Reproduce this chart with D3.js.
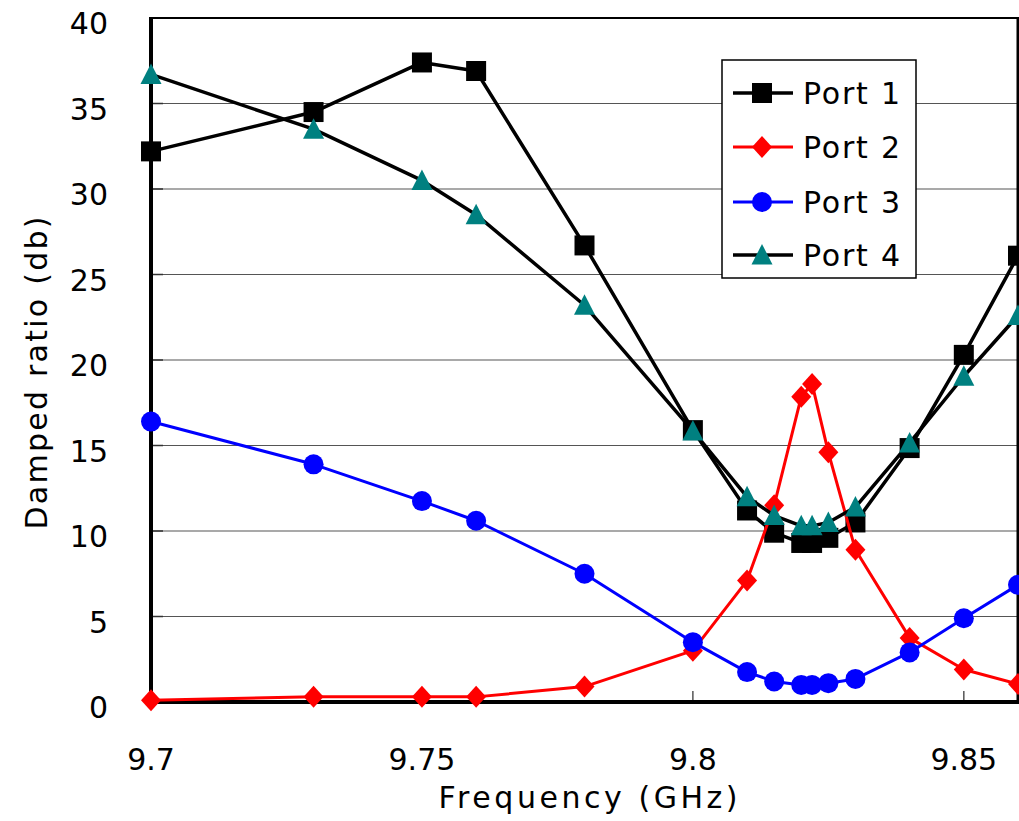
<!DOCTYPE html>
<html>
<head>
<meta charset="utf-8">
<script src="https://cdn.jsdelivr.net/npm/d3@7"></script>
<style>
  html, body { margin: 0; padding: 0; background: #fff; }
  svg { display: block; }
  text { font-family: "DejaVu Sans", sans-serif; fill: #000; }
</style>
</head>
<body>
<svg id="chart" width="1019" height="821"></svg>
<script>
// Measured frequencies (GHz)
const frequencies = [9.7, 9.73, 9.75, 9.76, 9.78, 9.8, 9.81, 9.815, 9.82, 9.822, 9.825, 9.83, 9.84, 9.85, 9.86];

// Damped ratio (dB) per port
const port1 = [32.2, 34.5, 37.4, 36.9, 26.7, 15.9, 11.2, 9.9, 9.3, 9.3, 9.6, 10.5, 14.85, 20.3, 26.1];
const port2 = [0.1, 0.3, 0.3, 0.3, 0.9, 3.0, 7.1, 11.5, 17.85, 18.6, 14.6, 8.9, 3.75, 1.9, 1.05];
const port3 = [16.4, 13.9, 11.75, 10.6, 7.5, 3.5, 1.75, 1.2, 1.0, 1.0, 1.1, 1.35, 2.9, 4.9, 6.85];
const port4 = [36.7, 33.5, 30.5, 28.5, 23.2, 15.85, 12.0, 10.9, 10.3, 10.3, 10.5, 11.4, 15.15, 19.05, 22.6];

const seriesNames = ["Port 1", "Port 2", "Port 3", "Port 4"];
const yTicks = [0, 5, 10, 15, 20, 25, 30, 35, 40];
const xTicks = [9.7, 9.75, 9.8, 9.85];
const xTickLabels = ["9.7", "9.75", "9.8", "9.85"];

const xTitle = "Frequency (GHz)";
const yTitle = "Damped ratio (db)";

// Visual style for each series
const styles = [
  { line: "#000000", fill: "#000000", width: 3.5, marker: "square" },
  { line: "#FF0000", fill: "#FF0000", width: 3,   marker: "diamond" },
  { line: "#0000FF", fill: "#0000FF", width: 3,   marker: "circle" },
  { line: "#000000", fill: "#008080", width: 3.5, marker: "triangle" }
];

const allSeries = [port1, port2, port3, port4];

const svg = d3.select("#chart");
const plot = { left: 151, right: 1018, top: 18, bottom: 702 };

const x = d3.scaleLinear().domain([9.7, 9.86]).range([plot.left, plot.right]);
const y = d3.scaleLinear().domain([0, 40]).range([plot.bottom, plot.top]);

// Horizontal gridlines
svg.append("g").selectAll("line")
  .data(yTicks.filter(v => v > 0 && v < 40))
  .join("line")
  .attr("x1", plot.left).attr("x2", plot.right)
  .attr("y1", d => y(d)).attr("y2", d => y(d))
  .attr("stroke", "#555").attr("stroke-width", 1.2);

// Inward tick marks on the value axis
svg.append("g").selectAll("line")
  .data(yTicks)
  .join("line")
  .attr("x1", plot.left).attr("x2", plot.left + 12)
  .attr("y1", d => y(d)).attr("y2", d => y(d))
  .attr("stroke", "#333").attr("stroke-width", 1.5);

// Inward tick marks on the frequency axis
svg.append("g").selectAll("line")
  .data(xTicks.slice(1))
  .join("line")
  .attr("x1", d => x(d)).attr("x2", d => x(d))
  .attr("y1", plot.bottom).attr("y2", plot.bottom - 11)
  .attr("stroke", "#555").attr("stroke-width", 1.5);

// Frame
svg.append("line").attr("x1", plot.left).attr("x2", plot.right + 2)
  .attr("y1", plot.top).attr("y2", plot.top)
  .attr("stroke", "#000").attr("stroke-width", 2);
svg.append("line").attr("x1", plot.right).attr("x2", plot.right)
  .attr("y1", plot.top).attr("y2", plot.bottom)
  .attr("stroke", "#000").attr("stroke-width", 3);
svg.append("line").attr("x1", plot.left).attr("x2", plot.left)
  .attr("y1", plot.top - 1).attr("y2", plot.bottom + 2)
  .attr("stroke", "#000").attr("stroke-width", 4);
svg.append("line").attr("x1", plot.left - 2).attr("x2", plot.right + 2)
  .attr("y1", plot.bottom).attr("y2", plot.bottom)
  .attr("stroke", "#000").attr("stroke-width", 4);

// Tick labels
svg.append("g").selectAll("text")
  .data(yTicks)
  .join("text")
  .attr("x", 108)
  .attr("y", d => y(d) + 16)
  .attr("text-anchor", "end")
  .attr("font-size", 30)
  .text(d => d);

svg.append("g").selectAll("text")
  .data(xTicks)
  .join("text")
  .attr("x", d => x(d))
  .attr("y", 770)
  .attr("text-anchor", "middle")
  .attr("font-size", 30)
  .text((d, i) => xTickLabels[i]);

// Axis titles
svg.append("text")
  .attr("x", 588).attr("y", 808)
  .attr("text-anchor", "middle")
  .attr("font-size", 30)
  .attr("textLength", 299).attr("lengthAdjust", "spacing")
  .text(xTitle);

svg.append("text")
  .attr("transform", "translate(47,373) rotate(-90)")
  .attr("text-anchor", "middle")
  .attr("font-size", 30)
  .attr("textLength", 313).attr("lengthAdjust", "spacing")
  .text(yTitle);

// Marker shapes
function markerPath(kind) {
  switch (kind) {
    case "square": return "M-10,-10H10V10H-10Z";
    case "diamond": return "M0,-11L10,0L0,11L-10,0Z";
    case "triangle": return "M0,-11L10.5,9.5L-10.5,9.5Z";
    default: return d3.symbol(d3.symbolCircle, Math.PI * 10 * 10)();
  }
}

const line = d3.line().x(d => x(d[0])).y(d => y(d[1]));

allSeries.forEach((vals, i) => {
  const st = styles[i];
  const pts = frequencies.map((f, j) => [f, vals[j]]);
  const g = svg.append("g");
  g.append("path")
    .datum(pts)
    .attr("d", line)
    .attr("fill", "none")
    .attr("stroke", st.line)
    .attr("stroke-width", st.width)
    .attr("stroke-linejoin", "round");
  g.selectAll("path.mk")
    .data(pts)
    .join("path")
    .attr("class", "mk")
    .attr("transform", d => `translate(${x(d[0])},${y(d[1])})`)
    .attr("d", markerPath(st.marker))
    .attr("fill", st.fill);
});

// Legend
const legend = svg.append("g");
legend.append("rect")
  .attr("x", 722).attr("y", 60).attr("width", 194).attr("height", 218)
  .attr("fill", "#fff").attr("stroke", "#000").attr("stroke-width", 1.5);

const legendRows = [93, 147, 202, 255];
seriesNames.forEach((name, i) => {
  const st = styles[i];
  const cy = legendRows[i];
  legend.append("line")
    .attr("x1", 733).attr("x2", 793).attr("y1", cy).attr("y2", cy)
    .attr("stroke", st.line).attr("stroke-width", st.width);
  legend.append("path")
    .attr("transform", `translate(762,${cy})`)
    .attr("d", markerPath(st.marker))
    .attr("fill", st.fill);
  legend.append("text")
    .attr("x", 803).attr("y", cy + 11)
    .attr("font-size", 30)
    .attr("textLength", 97).attr("lengthAdjust", "spacing")
    .text(name);
});
</script>
</body>
</html>
